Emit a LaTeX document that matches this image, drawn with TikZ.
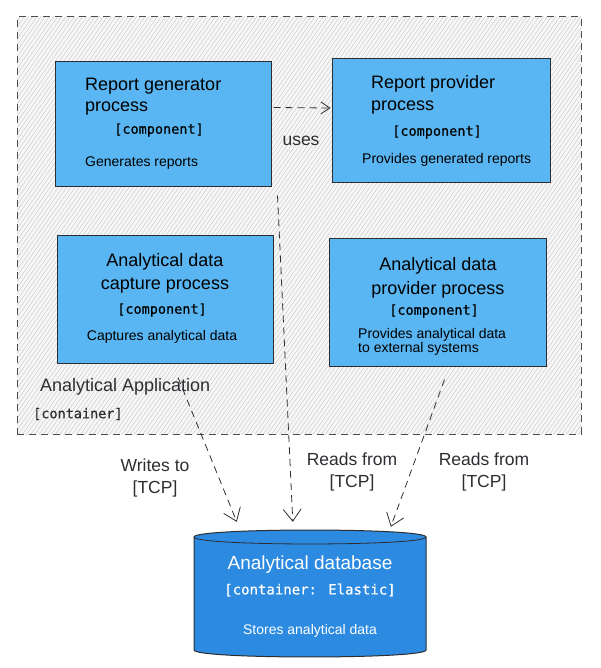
\documentclass[tikz,border=0pt]{standalone}
\usepackage{fontspec}
\setmainfont{Liberation Sans}
\newfontfamily\monof[FakeBold=0.5]{DejaVu Sans Mono}
\usetikzlibrary{arrows.meta,patterns.meta,calc}
\definecolor{compblue}{RGB}{90,182,242}
\definecolor{dbblue}{RGB}{44,138,224}
\definecolor{inkc}{RGB}{45,45,50}
\begin{document}
\begin{tikzpicture}[x=1pt,y=-1pt,
  contbox/.style={draw=inkc!85, line width=1pt, dash pattern=on 7pt off 5pt,
     preaction={fill=gray!6},
     pattern={Lines[angle=55,distance=3.4pt,line width=0.5pt]}, pattern color=gray!40,
     minimum width=564pt, minimum height=417pt, inner sep=0pt},
  comp/.style={draw=inkc, line width=1pt, fill=compblue, inner sep=0pt},
  ttl/.style={font=\fontsize{18}{21}\selectfont, inner sep=0pt, text=black},
  mono/.style={font=\monof\fontsize{13.5}{15}\selectfont, inner sep=0pt},
  desc/.style={font=\fontsize{14}{16}\selectfont, inner sep=0pt, align=left},
  lbl/.style={font=\fontsize{17.5}{22}\selectfont, inner sep=0pt, align=center, text=inkc},
  conn/.style={draw=inkc, line width=0.8pt, dash pattern=on 7pt off 5pt,
     -{Straight Barb[length=12pt,width=18pt,line width=0.8pt]}},
]
\useasboundingbox (0,0) rectangle (601,668);

% container
\node[contbox] (app) at (299,225.5) {};
\node[lbl, anchor=west, font=\fontsize{18}{21}\selectfont] (appname) at (40,387) {Analytical Application};
\node[mono, anchor=west, text=inkc] (apptype) at (33,414) {[container]};

% component boxes
\node[comp, minimum width=216pt, minimum height=125pt] (g) at (163,124.5) {};
\node[comp, minimum width=218pt, minimum height=124pt] (p) at (441,121) {};
\node[comp, minimum width=216pt, minimum height=128pt] (c) at (165,299) {};
\node[comp, minimum width=217pt, minimum height=128pt] (a) at (437.5,302) {};

% box 1 text
\node[ttl, anchor=west] (g1) at (85,86) {Report generator};
\node[ttl, anchor=west] (g2) at (85,109) {process};
\node[mono] (g3) at (159,130) {[component]};
\node[desc, anchor=west] (g4) at (85,163) {Generates reports};

% box 2 text
\node[ttl, anchor=west] (p1) at (371,84) {Report provider};
\node[ttl, anchor=west] (p2) at (371,108) {process};
\node[mono] (p3) at (437,132) {[component]};
\node[desc, anchor=west] (p4) at (362,160) {Provides generated reports};

% box 3 text
\node[ttl] (c1) at (165,262) {Analytical data};
\node[ttl] (c2) at (165,286) {capture process};
\node[mono] (c3) at (162,310) {[component]};
\node[desc] (c4) at (162,337) {Captures analytical data};

% box 4 text
\node[ttl] (a1) at (438,266) {Analytical data};
\node[ttl] (a2) at (438,290) {provider process};
\node[mono] (a3) at (434,311) {[component]};
\node[desc, anchor=north west] (a4) at (358,328) {Provides analytical data\\[-1.5pt]to external systems};

% database
\path[fill=dbblue, draw=inkc, line width=1pt]
  (194,537) -- (194,650) .. controls (194,659.3) and (426,659.3) .. (426,650)
  -- (426,537) .. controls (426,527.7) and (194,527.7) .. (194,537) -- cycle;
\draw[inkc, line width=0.8pt] (194,537) .. controls (194,546.3) and (426,546.3) .. (426,537);
\node[minimum width=232pt, minimum height=130pt, inner sep=0pt] (db) at (310,594) {};
\node[ttl, text=white, font=\fontsize{19}{22}\selectfont] (d1) at (310,565) {Analytical database};
\node[mono, text=white, font=\monof\fontsize{14}{16}\selectfont] (d2) at (310,590) {[container: Elastic]};
\node[desc, text=white] (d3) at (310,631) {Stores analytical data};

% connectors
\coordinate (u1) at ($(g.east)+(2,-17)$);
\coordinate (u2) at ($(p.west)+(-1,-13)$);
\draw[conn, -{Straight Barb[length=9pt,width=12pt,line width=0.8pt]}] (u1) -- (u2);
\node[lbl] (uses) at (301,141) {uses};

\coordinate (s1) at ($(c.south)+(13,14)$);
\coordinate (e1) at ($(db.north west)+(43,-7)$);
\draw[conn] (s1) -- (e1);
\node[lbl] (w1) at (155,478) {Writes to\\{[TCP]}};

\coordinate (s2) at ($(g.south east)+(6,8)$);
\coordinate (e2) at ($(db.north west)+(99,-7)$);
\draw[conn] (s2) -- (e2);
\node[lbl] (r1) at (352,472) {Reads from\\{[TCP]}};

\coordinate (s3) at ($(a.south)+(7,13)$);
\coordinate (e3) at ($(db.north west)+(197,-2)$);
\draw[conn] (s3) -- (e3);
\node[lbl] (r2) at (484,472) {Reads from\\{[TCP]}};
\end{tikzpicture}
\end{document}
